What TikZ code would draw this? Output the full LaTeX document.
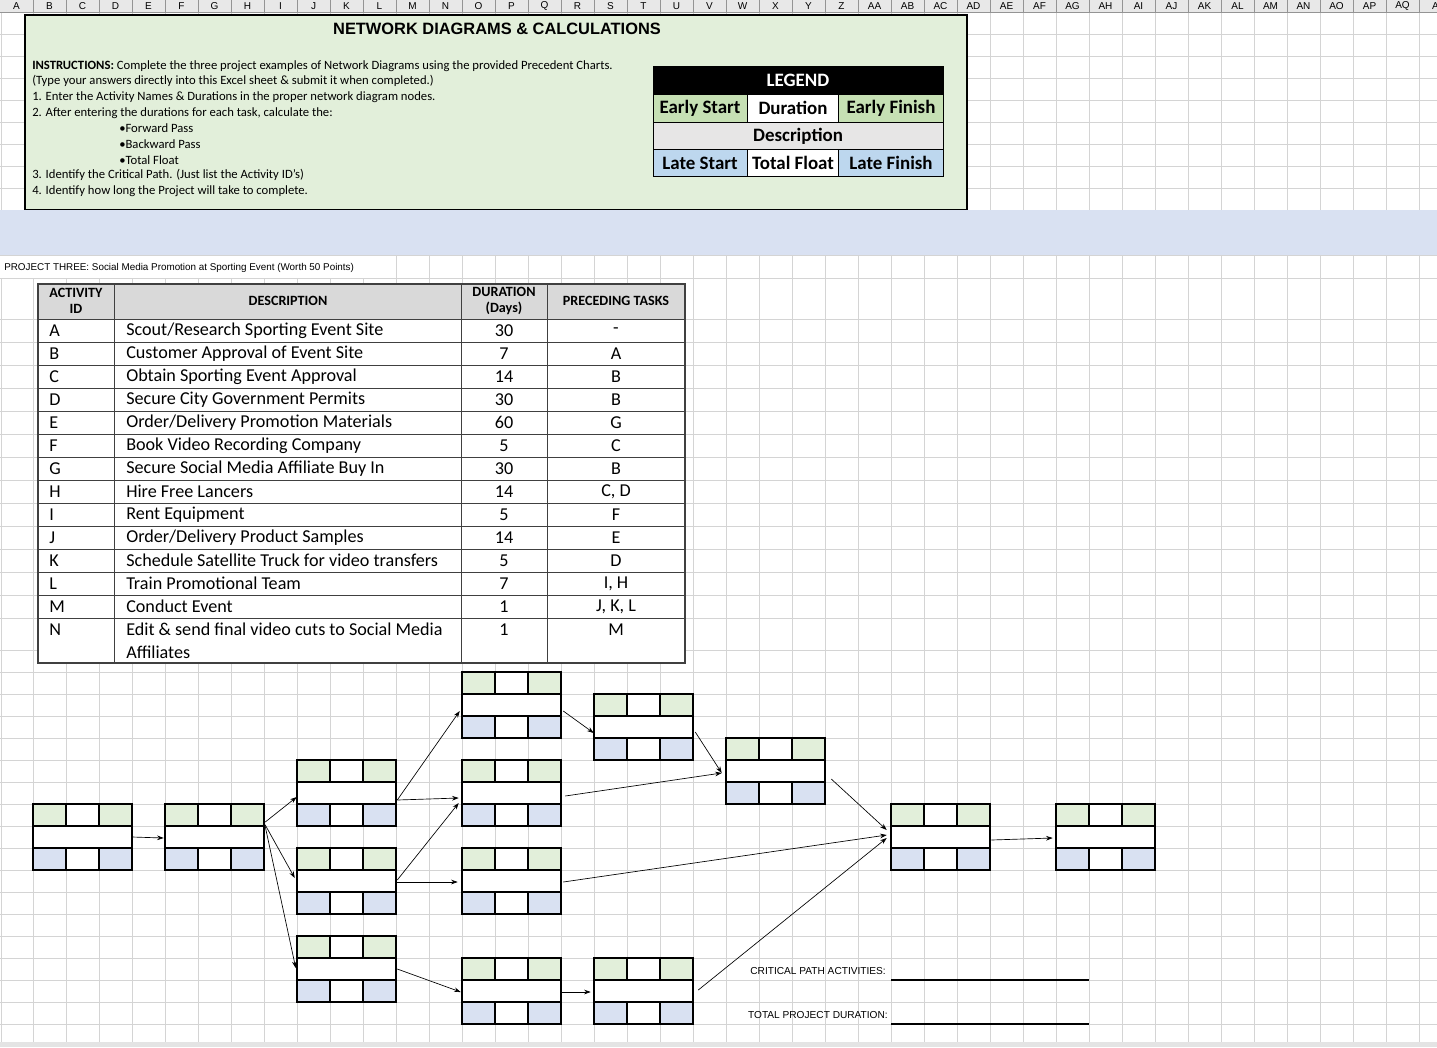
\documentclass[tikz,border=0pt]{standalone}
\usepackage{fontspec}
\setmainfont{Carlito}
\newfontfamily\arl{Liberation Sans}
\usetikzlibrary{calc,arrows.meta}
\definecolor{gf}{HTML}{E2EFDA}
\definecolor{bf}{HTML}{D9E1F2}
\definecolor{lgf}{HTML}{C6E0B4}
\definecolor{lbf}{HTML}{BDD7EE}
\definecolor{hdr}{HTML}{D9D9D9}
\definecolor{desc}{HTML}{E7E6E6}
\definecolor{gridc}{HTML}{D4D4D4}
\newcommand\fs[1]{\fontsize{#1}{#1}\selectfont}
\newcommand\netnode[3]{%
  \node[nodebox] (#1) at (#2+49.5,#3+33) {};
  \fill[gf] (#2,#3) rectangle ++(33,22); \fill[gf] (#2+66,#3) rectangle ++(33,22);
  \fill[bf] (#2,#3+44) rectangle ++(33,22); \fill[bf] (#2+66,#3+44) rectangle ++(33,22);
  \draw[line width=0.8pt] (#2,#3+22) -- ++(99,0) (#2,#3+44) -- ++(99,0)
    (#2+33,#3)--++(0,22) (#2+66,#3)--++(0,22) (#2+33,#3+44)--++(0,22) (#2+66,#3+44)--++(0,22);
  \draw[line width=1.6pt] (#1.north west) rectangle (#1.south east);}
\begin{document}
\begin{tikzpicture}[x=0.75pt,y=-0.75pt,
  nodebox/.style={minimum width=74.25pt,minimum height=49.5pt,inner sep=0pt,fill=white},
  arr/.style={-{Stealth[length=5pt,width=3.5pt]},line width=0.5pt},
  gl/.style={draw=gridc,line width=0.5pt},
  tb/.style={font=\fs{13.6}},
  ins/.style={anchor=west,font=\fs{9.5},inner sep=0},
  th/.style={font=\fs{10.6}\bfseries,align=center},
  lg/.style={font=\fs{14.2}\bfseries}]
\useasboundingbox (0,0) rectangle (1437,1047);
\fill[white] (0,0) rectangle (1437,1047);
% grid
\foreach \i in {1,...,43} \draw[gl] (33*\i,12)--(33*\i,1042);
\foreach \y in {34,56,...,210} \draw[gl] (0,\y)--(1437,\y);
\foreach \y in {255,278,319,342,...,618,650,672,694,...,1040} \draw[gl] (0,\y)--(1437,\y);
\draw[gl] (1.5,12)--(1.5,1042);
% header row
\fill[hdr!60] (0,0) rectangle (1437,12);
\draw[gridc!70!black,line width=0.4pt] (0,12)--(1437,12);
\foreach [count=\k from 0] \c in {A,B,C,D,E,F,G,H,I,J,K,L,M,N,O,P,Q,R,S,T,U,V,W,X,Y,Z,AA,AB,AC,AD,AE,AF,AG,AH,AI,AJ,AK,AL,AM,AN,AO,AP,AQ,A}{
  \node[font=\arl\fs{7.5},inner sep=0] (col\k) at (16.5+33*\k,6) {\c};
  \draw[gridc!70!black,line width=0.4pt] (33+33*\k,0)--(33+33*\k,12);}
% green box
\draw[fill=gf,line width=0.8pt] (25,15) rectangle (967,210);
\node[font=\arl\fs{12.3}\bfseries] (title) at (497,29) {NETWORK DIAGRAMS \& CALCULATIONS};
\node[ins] (i1) at (32,66) {\textbf{INSTRUCTIONS:} Complete the three project examples of Network Diagrams using the provided Precedent Charts.};
\node[ins] (i2) at (32,81) {(Type your answers directly into this Excel sheet \& submit it when completed.)};
\node[ins] (i3) at (32,97) {1. Enter the Activity Names \& Durations in the proper network diagram nodes.};
\node[ins] (i4) at (32,113) {2. After entering the durations for each task, calculate the:};
\node[ins] (i5) at (119,128) {•Forward Pass};
\node[ins] (i6) at (119,144) {•Backward Pass};
\node[ins] (i7) at (119,160) {•Total Float};
\node[ins] (i8) at (32,175) {3. Identify the Critical Path. (Just list the Activity ID's)};
\node[ins] (i9) at (32,191) {4. Identify how long the Project will take to complete.};
% legend
\fill[black] (653,66) rectangle (943,94);
\fill[lgf] (653,94) rectangle (747,122); \fill[lgf] (838,94) rectangle (943,122);
\fill[white] (747,94) rectangle (838,122);
\fill[desc] (653,122) rectangle (943,149);
\fill[lbf] (653,149) rectangle (747,176); \fill[lbf] (838,149) rectangle (943,176);
\fill[white] (747,149) rectangle (838,176);
\draw[line width=0.6pt] (653,66) rectangle (943,176) (653,94)--(943,94) (653,122)--(943,122) (653,149)--(943,149)
  (747,94)--(747,122) (838,94)--(838,122) (747,149)--(747,176) (838,149)--(838,176);
\node[lg,white] (lh) at (798,80) {LEGEND};
\node[lg] (l1) at (700,108) {Early Start};
\node[lg] (l2) at (793,108) {Duration};
\node[lg] (l3) at (891,108) {Early Finish};
\node[lg] (l4) at (798,136) {Description};
\node[lg] (l5) at (700,163) {Late Start};
\node[lg] (l6) at (793,163) {Total Float};
\node[lg] (l7) at (891,163) {Late Finish};
% blue band
\fill[bf] (0,210) rectangle (1437,255);
\fill[white] (0,256) rectangle (370,278);
\node[anchor=west,font=\arl\fs{7.4},inner sep=0] (proj) at (4,268) {PROJECT THREE: Social Media Promotion at Sporting Event (Worth 50 Points)};
% table
\fill[white] (38,284) rectangle (685,663);
\fill[hdr] (38,284) rectangle (685,319);
\draw[line width=0.8pt,black!75] (38,284) rectangle (685,663);
\draw[line width=0.6pt,black!75] (114,284)--(114,663) (461,284)--(461,663) (547,284)--(547,663);
\foreach \y in {319,342,...,618} \draw[line width=0.6pt,black!75] (38,\y)--(685,\y);
\node[th] (h1) at (76,301) {ACTIVITY\\[1pt]ID};
\node[th] (h2) at (288,301) {DESCRIPTION};
\node[th] (h3) at (504,301) {DURATION\\[1pt](Days)};
\node[th] (h4) at (616,301) {PRECEDING TASKS};
\foreach [count=\r from 0] \id/\d/\du/\p in {A/Scout\slash Research Sporting Event Site/30/-,
  B/Customer Approval of Event Site/7/A, C/Obtain Sporting Event Approval/14/B,
  D/Secure City Government Permits/30/B, E/Order\slash Delivery Promotion Materials/60/G,
  F/Book Video Recording Company/5/C, G/Secure Social Media Affiliate Buy In/30/B,
  H/Hire Free Lancers/14/{C, D}, I/Rent Equipment/5/F, J/Order\slash Delivery Product Samples/14/E,
  K/Schedule Satellite Truck for video transfers/5/D, L/Train Promotional Team/7/{I, H},
  M/Conduct Event/1/{J, K, L}, N/Edit \& send final video cuts to Social Media/1/M}{
  \node[tb,anchor=west,inner sep=0] (id\r) at (49,330.5+23*\r) {\id};
  \node[tb,anchor=west,inner sep=0] (ds\r) at (126,330.5+23*\r) {\d};
  \node[tb,inner sep=0] (du\r) at (504,330.5+23*\r) {\du};
  \node[tb,inner sep=0] (pt\r) at (616,330.5+23*\r) {\p};}
\node[tb,anchor=west,inner sep=0] (ds13b) at (126,652) {Affiliates};
% network nodes
\netnode{n1}{33}{804}
\netnode{n2}{165}{804}
\netnode{n3}{297}{760}
\netnode{n4}{297}{848}
\netnode{n5}{297}{936}
\netnode{n6}{462}{672}
\netnode{n7}{462}{760}
\netnode{n8}{462}{848}
\netnode{n9}{462}{958}
\netnode{n10}{594}{694}
\netnode{n11}{594}{958}
\netnode{n12}{726}{738}
\netnode{n13}{891}{804}
\netnode{n14}{1056}{804}
% connectors
\draw[arr] (n1.east) -- ($(n2.west)+(-1,1)$);
\draw[arr] ($(n2.east)+(1,-15)$) -- ($(n3.west)+(0,4)$);
\draw[arr] ($(n2.east)+(1,-12)$) -- ($(n4.west)+(-2,-3)$);
\draw[arr] ($(n2.east)+(0,-15)$) -- ($(n5.west)+(-1,-1)$);
\draw[arr] ($(n3.east)+(1,7)$) -- ($(n6.west)+(-2,6)$);
\draw[arr] ($(n3.east)+(1,7)$) -- ($(n7.west)+(-3,5)$);
\draw[arr] ($(n4.east)+(1,-1)$) -- ($(n7.west)+(-3,10)$);
\draw[arr] ($(n4.east)+(1,1)$) -- ($(n8.west)+(-4,1)$);
\draw[arr] ($(n5.east)+(1,0)$) -- ($(n9.west)+(-1,1)$);
\draw[arr] ($(n6.east)+(2,6)$) -- ($(n10.west)+(0,6)$);
\draw[arr] ($(n10.east)+(2,5)$) -- ($(n12.west)+(-4,2)$);
\draw[arr] ($(n7.east)+(4,3)$) -- ($(n12.west)+(-4,2)$);
\draw[arr] ($(n12.east)+(6,8)$) -- ($(n13.west)+(-4,-7)$);
\draw[arr] ($(n8.east)+(2,1)$) -- ($(n13.west)+(-4,-2)$);
\draw[arr] ($(n11.east)+(5,-1)$) -- ($(n13.west)+(-4,1)$);
\draw[arr] ($(n9.east)+(1,1)$) -- ($(n11.west)+(-3,1)$);
\draw[arr] ($(n13.east)+(1,3)$) -- ($(n14.west)+(-3,1)$);
% answer lines
\node[anchor=east,font=\arl\fs{7.6},inner sep=0] (cp) at (886,971) {CRITICAL PATH ACTIVITIES:};
\node[anchor=east,font=\arl\fs{7.6},inner sep=0] (tp) at (888,1015) {TOTAL PROJECT DURATION:};
\coordinate (cpa) at (891,980); \coordinate (cpb) at (1089,980);
\coordinate (tpa) at (891,1024); \coordinate (tpb) at (1089,1024);
\draw[line width=0.8pt] (cpa)--(cpb) (tpa)--(tpb);
\fill[hdr!70] (0,1042) rectangle (1437,1047);
\end{tikzpicture}
\end{document}
